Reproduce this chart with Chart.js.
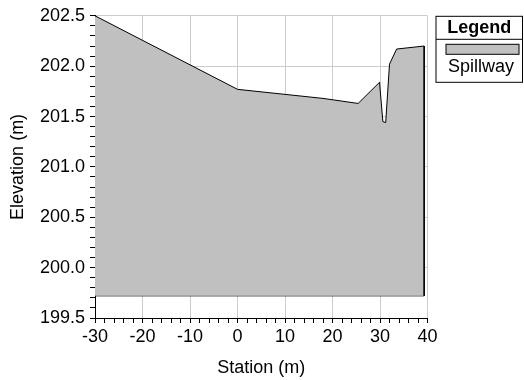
<!DOCTYPE html>
<html>
<head>
<meta charset="utf-8">
<script src="https://cdn.jsdelivr.net/npm/chart.js@4"></script>
<style>
    html, body { margin: 0; padding: 0; background: #fff; }
    #wrap { width: 524px; height: 380px; }
</style>
</head>
<body>
<div id="wrap"><canvas id="profileChart" width="524" height="380"></canvas></div>
<script>
// profile of the spillway crest
const stations = [-30, 0, 18, 25.4, 29.9, 30.6, 31.2, 32.0, 33.5, 39.3, 39.3];
const elevations = [202.5, 201.77, 201.68, 201.63, 201.84, 201.45, 201.44, 202.02, 202.17, 202.2, 199.72];
const baseStations = [-30, 39.3];
const baseElevation = 199.72;
const seriesName = 'Spillway';

const xTicks = [-30, -20, -10, 0, 10, 20, 30, 40];
const yTicks = [199.5, 200.0, 200.5, 201.0, 201.5, 202.0, 202.5];

const FONT = 'Liberation Sans';
const GRAY = '#c0c0c0';

Chart.defaults.font.family = FONT;
Chart.defaults.font.size = 18;
Chart.defaults.color = '#000';

function isMajor(value, list) {
    return list.some(t => Math.abs(t - value) < 1e-6);
}

// boxed legend at the right of the plot
const boxLegend = {
    id: 'boxLegend',
    afterDraw(chart) {
        const ctx = chart.ctx;
        const area = chart.chartArea;
        const left = area.right + 8.5;
        const right = chart.width - 1.5;
        const top = area.top + 0.5;
        const bottom = top + 66;
        const mid = (left + right) / 2;

        ctx.save();
        ctx.strokeStyle = '#000';
        ctx.lineWidth = 1;
        ctx.strokeRect(left, top, right - left, bottom - top);
        ctx.beginPath();
        ctx.moveTo(left, top + 23);
        ctx.lineTo(right, top + 23);
        ctx.stroke();

        ctx.fillStyle = '#000';
        ctx.textAlign = 'center';
        ctx.textBaseline = 'middle';
        ctx.font = 'bold 18px ' + FONT;
        ctx.fillText('Legend', mid, top + 12);

        ctx.fillStyle = GRAY;
        ctx.fillRect(left + 10, top + 28, 73, 10);
        ctx.strokeRect(left + 10, top + 28, 73, 10);

        ctx.fillStyle = '#000';
        ctx.font = '18px ' + FONT;
        ctx.textAlign = 'left';
        ctx.fillText(seriesName, left + 12, top + 51);
        ctx.restore();
    }
};

const profile = stations.map((s, i) => ({ x: s, y: elevations[i] }));
const baseLine = baseStations.map(s => ({ x: s, y: baseElevation }));

new Chart(document.getElementById('profileChart').getContext('2d'), {
    type: 'line',
    data: {
        datasets: [
            {
                label: seriesName,
                data: profile,
                borderColor: '#000',
                borderWidth: 1,
                backgroundColor: GRAY,
                fill: { value: baseElevation },
                pointRadius: 0,
                tension: 0
            },
            {
                label: 'base',
                data: baseLine,
                borderColor: '#000',
                borderWidth: 1,
                fill: false,
                pointRadius: 0
            }
        ]
    },
    options: {
        responsive: false,
        animation: false,
        layout: { padding: { left: 0, right: 96.5, top: 14, bottom: 0 } },
        plugins: {
            legend: { display: false },
            tooltip: { enabled: false }
        },
        scales: {
            x: {
                type: 'linear',
                min: -30,
                max: 40,
                afterFit: scale => { scale.height = 62; },
                ticks: {
                    stepSize: 2,
                    autoSkip: false,
                    maxRotation: 0,
                    padding: 3,
                    callback: v => isMajor(v, xTicks) ? String(Math.round(v)) : ''
                },
                grid: {
                    color: c => (c.tick && isMajor(c.tick.value, xTicks)) ? '#cccccc' : 'rgba(0,0,0,0)',
                    tickColor: '#000',
                    tickLength: 5,
                    lineWidth: 1
                },
                border: { display: true, color: '#000', width: 1 },
                title: { display: true, text: 'Station (m)', padding: { top: 0, bottom: 1 } }
            },
            y: {
                type: 'linear',
                min: 199.5,
                max: 202.5,
                afterFit: scale => { scale.width = 95; },
                ticks: {
                    stepSize: 0.1,
                    autoSkip: false,
                    padding: 5,
                    callback: v => isMajor(v, yTicks) ? v.toFixed(1) : ''
                },
                grid: {
                    color: c => (c.tick && isMajor(c.tick.value, yTicks)) ? '#cccccc' : 'rgba(0,0,0,0)',
                    tickColor: '#000',
                    tickLength: 5,
                    lineWidth: 1
                },
                border: { display: true, color: '#000', width: 1 },
                title: { display: true, text: 'Elevation (m)', padding: { top: 7, bottom: 0 } }
            }
        }
    },
    plugins: [boxLegend]
});
</script>
</body>
</html>
